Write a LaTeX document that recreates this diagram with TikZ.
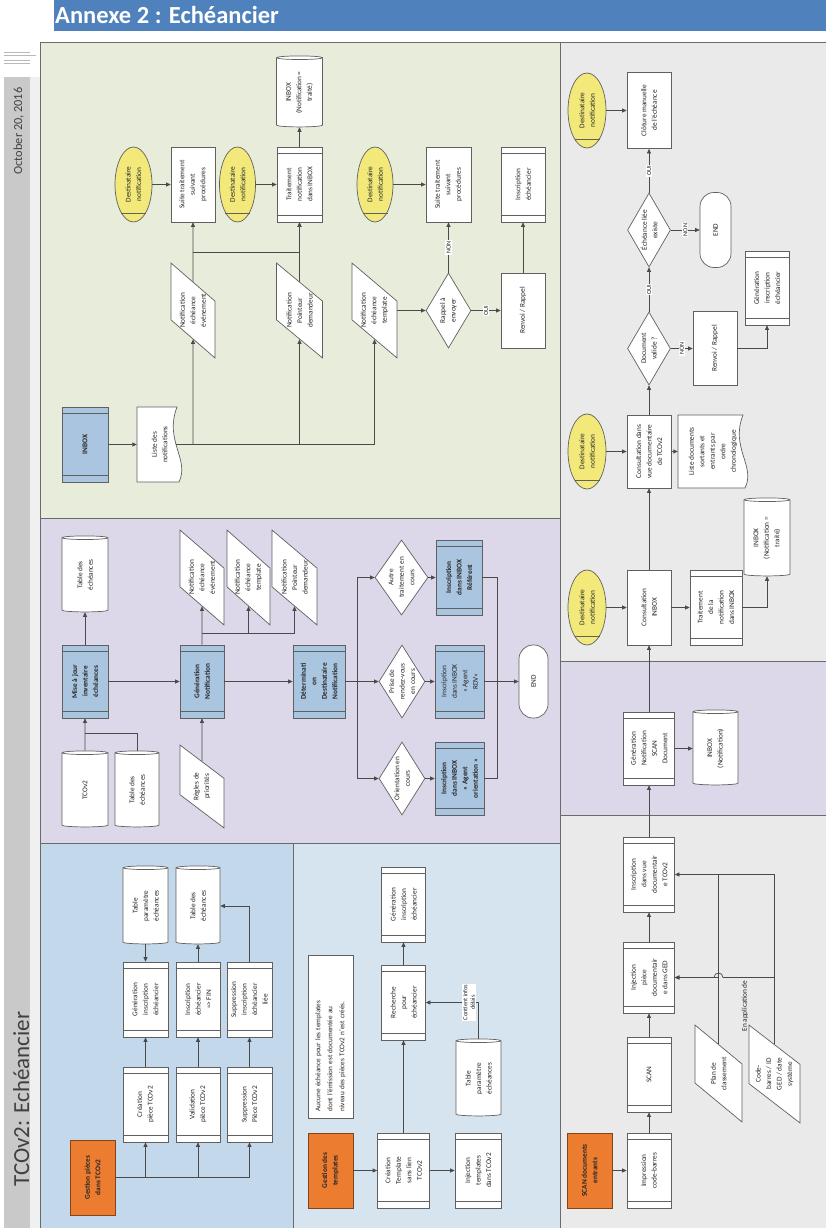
\documentclass[tikz,border=0pt]{standalone}
\usepackage{fontspec}
\setmainfont{Carlito}
\usetikzlibrary{shapes.geometric,arrows.meta,calc}
\definecolor{bc}{HTML}{606060}
\definecolor{lc}{HTML}{4A4A4A}
\definecolor{tx}{HTML}{262626}
\definecolor{yel}{HTML}{F3E97A}
\definecolor{bbox}{HTML}{A9C5E0}
\definecolor{orng}{HTML}{EC7C30}
\definecolor{greenbg}{HTML}{E8ECDB}
\definecolor{purplebg}{HTML}{DCD7E9}
\definecolor{blueA}{HTML}{C3D8EB}
\definecolor{blueB}{HTML}{D6E4F0}
\definecolor{greybg}{HTML}{EAEAEA}
\definecolor{hdr}{HTML}{4F81BD}
\definecolor{strip}{HTML}{C9C9C9}
\definecolor{frm}{HTML}{6A6A6A}
\definecolor{dtx}{HTML}{404040}
\newcommand\bxf{\fontsize{7.3}{10.5}\selectfont}
\tikzset{
  sz/.style 2 args={minimum width=#2pt,minimum height=#1pt},
  shp/.style={rotate=90,draw=bc,line width=0.7pt,inner sep=0pt,fill=white},
  proc/.style={shp,rectangle},
  subp/.style={shp,rectangle},
  subb/.style={shp,rectangle,fill=bbox},
  orbox/.style={shp,rectangle,fill=orng,draw=orng!55!black},
  ell/.style={shp,ellipse,fill=yel},
  cyl/.style={shp,cylinder,aspect=0.3,sz/.style 2 args={minimum width=##1pt,minimum height=##2pt}},
  para/.style={shp,trapezium,inner sep=2pt,trapezium left angle=63,trapezium right angle=117,trapezium stretches=true},
  dia/.style={shp,diamond},
  term/.style={shp,rectangle,rounded corners=14pt},
  txt/.style={rotate=90,inner sep=0pt,align=center,font=\bxf,text=tx},
  lbl/.style={rotate=90,fill=white,inner sep=1pt,align=center,font=\fontsize{6.3}{7.5}\selectfont,text=tx},
  arr/.style={draw=lc,line width=0.7pt,-{Triangle[length=4.5pt,width=4pt]}},
  ln/.style={draw=lc,line width=0.7pt},
  bar/.style={draw=bc,line width=0.6pt},
  lane/.style={draw=frm,line width=1pt},
}
\newcommand\SN[6][]{\node[#2,sz=#5] (#3) at (#4) {\strut};\node[txt,#1] (#3-t) at (#3.center) {#6};}
\newcommand\DOC[6]{%
  \filldraw[fill=white,draw=bc,line width=0.7pt,shift={(#2,#3)}]
   (-#4/2,-#5/2) -- (#4/2-5,-#5/2) .. controls (#4/2-18,-#5/2+0.45*#5) and (#4/2+8,-#5/2+0.7*#5) .. (#4/2-3,#5/2) -- (-#4/2,#5/2) -- cycle;
  \node[txt,sz={#4}{#5}] (#1) at (#2,#3) {#6};}
\begin{document}
\begin{tikzpicture}[x=1pt,y=-1pt]
\useasboundingbox (0,0) rectangle (826,1228);
\fill[white] (0,0) rectangle (826,1228);
% header
\fill[hdr] (54,0) rectangle (826,31);
\node[anchor=base west,inner sep=0pt,text=white,font=\fontsize{24.5}{26}\selectfont\bfseries] (title) at (55,24) {Annexe 2 : Echéancier};
% left strip
\fill[strip] (4,77) rectangle (30,1228);
\fill[gray!12] (30,77) rectangle (40,1228);
\draw[gray!55,line width=0.5pt] (4,52) -- (30,52) (4,55) -- (36,55) (4,60) -- (30,60) (4,63) -- (30,63);
\node[rotate=90,anchor=base,inner sep=0pt,font=\fontsize{12.3}{13}\selectfont,text=dtx] (date) at (22,131) {October 20, 2016};
\node[rotate=90,anchor=base,inner sep=0pt,font=\fontsize{23}{25}\selectfont,text=dtx] (ttl) at (29,1099) {TCOv2: Echéancier};
% lanes
\filldraw[lane,fill=greenbg] (40,43) rectangle (560,518);
\filldraw[lane,fill=purplebg] (40,518) rectangle (560,843);
\filldraw[lane,fill=blueA] (40,843) rectangle (293,1232);
\filldraw[lane,fill=blueB] (293,843) rectangle (560,1232);
\filldraw[lane,fill=greybg] (560,43) rectangle (830,661);
\filldraw[lane,fill=purplebg] (560,661) rectangle (830,815);
\filldraw[lane,fill=greybg] (560,815) rectangle (830,1232);

% ===== green lane =====
\SN{ell}{e1}{133.5,184.5}{{37}{75}}{Destinataire\\notification}
\SN{proc}{b1}{193,184.5}{{44}{75}}{Suite traitement\\suivant\\procédures}
\SN{ell}{e2}{237.5,184.5}{{36}{75}}{Destinataire\\notification}
\SN{subp}{b2}{299.5,184.5}{{45}{75}}{Traitement\\notification\\dans INBOX}
\SN{cyl}{c1}{299.5,92.5}{{46}{71}}{INBOX\\(Notification =\\traité)}
\SN{para}{p1}{193,310.5}{{44}{95}}{Notification\\échéance\\événement}
\SN{para}{p2}{299.5,310.5}{{46}{95}}{Notification\\Pointeur\\demandeur}
\SN{para}{p3}{374.5,310.5}{{45}{95}}{Notification\\échéance\\template}
\SN{ell}{e3}{375,184.5}{{36}{75}}{Destinataire\\notification}
\SN{proc}{b3}{448.5,184.5}{{45}{75}}{Suite traitement\\suivant\\procédures}
\SN{subp}{b4}{523,184.5}{{44}{75}}{Inscription\\échéancier}
\SN{dia}{d1}{448.5,310.5}{{45}{75}}{Rappel à\\envoyer}
\SN{proc}{b5}{523,310.5}{{44}{75}}{Renvoi / Rappel}
\SN[font=\bxf\bfseries]{subb}{inbox}{85,444.5}{{46}{75}}{INBOX}
\DOC{liste}{159.5}{444.5}{45}{75}{Liste des\\notifications}

% ===== purple lane (left) =====
\SN{cyl}{tab1}{85,575}{{46}{76}}{Table des\\échéances}
\SN[font=\bxf\bfseries]{subb}{maj}{85,681.5}{{46}{73}}{Mise à jour\\inventaire\\échéances}
\SN{cyl}{tcov2}{85,790}{{46}{76}}{TCOv2}
\SN{cyl}{tab2}{137,790}{{44}{76}}{Table des\\échéances}
\SN[font=\bxf\bfseries]{subb}{gen}{202,681.5}{{44}{73}}{Génération\\Notification}
\SN{para}{regles}{202,786.5}{{44}{83}}{Règles de\\priorités}
\SN{para}{n1}{202,577.5}{{44}{95}}{Notification\\échéance\\événement}
\SN{para}{n2}{248.5,577.5}{{43}{95}}{Notification\\échéance\\template}
\SN{para}{n3}{294.5,577.5}{{45}{95}}{Notification\\Pointeur\\demandeur}
\SN[font=\bxf\bfseries]{subb}{det}{319,681.5}{{52}{73}}{Déterminati\\on\\Destinataire\\Notification}
\SN{dia}{dq1}{401.5,577.5}{{53}{75}}{Autre\\traitement en\\cours}
\SN{dia}{dq2}{402,681.5}{{46}{73}}{Prise de\\rendez-vous\\en cours}
\SN{dia}{dq3}{402,778.5}{{46}{73}}{Orientation en\\cours}
\SN[font=\bxf\bfseries]{subb}{ir1}{459,577.5}{{46}{75}}{Inscription\\dans INBOX\\Référent}
\SN{subb}{ir2}{459.5,681.5}{{49}{73}}{Inscription\\dans INBOX\\« Agent\\RDV»}
\SN[font=\bxf\bfseries]{subb}{ir3}{459.5,778.5}{{49}{73}}{Inscription\\dans INBOX\\« Agent\\orientation »}
\SN{term}{end1}{533.5,681.5}{{29}{73}}{END}

% ===== blue lane 1 =====
\SN[font=\bxf\bfseries]{orbox}{og1}{92.5,1177.5}{{45}{75}}{Gestion pièces\\dans TCOv2}
\SN{subp}{cp}{145.5,1104.5}{{45}{75}}{Création\\pièce TCOv2}
\SN{subp}{vp}{198,1104.5}{{44}{75}}{Validation\\pièce TCOv2}
\SN{subp}{sp}{249.5,1104.5}{{45}{75}}{Suppression\\Pièce TCOv2}
\SN{subp}{gi}{145.5,999.5}{{45}{75}}{Génération\\inscription\\échéancier}
\SN{subp}{ie}{198,999.5}{{44}{75}}{Inscription\\échéancier\\=> FIN}
\SN{subp}{si}{249.5,999.5}{{45}{75}}{Suppression\\inscription\\échéancier\\liée}
\SN{cyl}{tpe}{145.5,906}{{45}{78}}{Table\\paramètre\\échéances}
\SN{cyl}{tde}{198,906}{{44}{78}}{Table des\\échéances}

% ===== blue lane 2 =====
\SN[font=\bxf\bfseries]{orbox}{og2}{330.5,1170.5}{{45}{75}}{Gestion des\\templates}
\SN{subp}{ct}{403.5,1170.5}{{52}{75}}{Création\\Template\\sans lien\\TCOv2}
\SN{subp}{it}{478,1170.5}{{46}{75}}{Injection\\templates\\dans TCOv2}
\SN{subp}{rp}{403.5,1002.5}{{44}{75}}{Recherche\\pour\\échéancier}
\SN{subp}{gt}{403.5,904.5}{{44}{75}}{Génération\\inscription\\échéancier}
\SN{cyl}{tpe2}{478.5,1078.5}{{45}{77}}{Table\\paramètre\\échéances}
\node[proc,sz={45}{163},text width=150pt,align=left,font=\fontsize{7.2}{12}\selectfont,text=tx] (note) at (330.5,1036.5) {Aucune échéance pour les templates\\dont l'émission est documentée au\\niveau des pièces TCOv2 n'est créés.};

% ===== right column =====
\SN{ell}{e4}{587,110.5}{{38}{75}}{Destinataire\\notification}
\SN{proc}{clo}{649,110.5}{{44}{76}}{Clôture manuelle\\de l'échéance}
\SN{dia}{dq4}{649,230}{{43}{74}}{Échéance liée\\existe}
\SN{term}{end2}{715.5,230}{{31}{75}}{END}
\SN{dia}{dq5}{649,348.5}{{43}{73}}{Document\\valide ?}
\SN{proc}{rr}{715,348.5}{{44}{74}}{Renvoi / Rappel}
\SN{subp}{gr}{767,288}{{44}{74}}{Génération\\inscription\\échéancier}
\SN{ell}{e5}{587,451.5}{{38}{75}}{Destinataire\\notification}
\SN{proc}{cdv}{649,451.5}{{44}{73}}{Consultation dans\\vue documentaire\\de TCOv2}
\DOC{ldoc}{713}{451.5}{70}{73}{Liste documents\\sortants et\\entrants par\\ordre\\chronologique}
\SN{ell}{e6}{587,607.5}{{38}{75}}{Destinataire\\notification}
\SN{proc}{ci}{649,607.5}{{44}{75}}{Consultation\\INBOX}
\SN{subp}{tn}{716,607.5}{{52}{75}}{Traitement\\de la\\notification\\dans INBOX}
\SN{cyl}{c2}{767,538}{{46}{78}}{INBOX\\(Notification =\\traité)}
\SN{subp}{gsc}{649,748.5}{{51}{73}}{Génération\\Notification\\SCAN\\Document}
\SN{cyl}{c3}{715.5,748.5}{{45}{75}}{INBOX\\(Notification)}
\SN[font=\bxf\bfseries]{orbox}{og3}{589.5,1170.5}{{45}{75}}{SCAN documents\\entrants}
\SN{subp}{ic}{649,1170.5}{{44}{75}}{Impression\\code-barres}
\SN{subp}{sc}{649,1074.5}{{44}{75}}{SCAN}
\SN{subp}{ig}{649,977.5}{{51}{71}}{Injection\\pièce\\documentair\\e dans GED}
\SN{subp}{iv}{649,874.5}{{51}{75}}{Inscription\\dans vue\\documentair\\e TCOv2}
\SN{para}{pc}{718.5,1073.5}{{47}{97}}{Plan de\\classement}
\SN{para}{cb}{774.5,1074}{{51}{98}}{Code-\\barres / ID\\GED / date\\système}

% subprocess bars
\foreach \n in {b2,b4,inbox,maj,gen,det,ir1,ir2,ir3,cp,vp,sp,gi,ie,si,ct,it,rp,gt,gr,tn,gsc,ic,sc,ig,iv}{
  \draw[bar] ($(\n.north east)!7pt!(\n.north west)$) -- ($(\n.south east)!7pt!(\n.south west)$)
             ($(\n.north west)!7pt!(\n.north east)$) -- ($(\n.south west)!7pt!(\n.south east)$);
}
% ellipse chords
\foreach \n in {e1,e2,e3,e4,e5,e6}{
  \draw[bar] ($(\n.center)+(-12.5,28.5)$) -- ($(\n.center)+(12.5,28.5)$);
}

% ===== connectors: green =====
\draw[arr] (inbox) -- (liste);
\draw[ln] ([xshift=-6pt]liste.south) -- (p3 |- liste.south);
\draw[arr] (p1 |- liste.south) -- (p1);
\draw[arr] (p2 |- liste.south) -- (p2);
\draw[arr] (p3 |- liste.south) -- (p3);
\draw[arr] (p1) -- (b1);
\coordinate (j1) at (193,252);
\draw[arr] (j1) -| (b2);
\draw[arr] (p2) -- (b2);
\draw[arr] (e1) -- (b1);
\draw[arr] (e2) -- (b2);
\draw[arr] (b2) -- (c1);
\draw[arr] (e3) -- (b3);
\draw[arr] (p3) -- (d1);
\draw[arr] (d1) -- node[lbl]{NON} (b3);
\draw[arr] (d1) -- node[lbl]{OUI} (b5);
\draw[arr] (b5) -- (b4);

% ===== connectors: purple left =====
\draw[arr] (tcov2) -- (maj);
\coordinate (jt) at (85,733);
\draw[ln] (tab2) |- (jt);
\draw[arr] (maj) -- (tab1);
\draw[arr] (maj) -- (gen);
\draw[arr] (regles) -- (gen);
\draw[arr] (gen) -- (n1);
\coordinate (jn) at (202,633);
\draw[arr] (jn) -| (n2);
\draw[arr] (jn) -| (n3);
\draw[arr] (gen) -- (det);
\coordinate (jd) at (357,681.5);
\draw[ln] (det) -- (jd);
\draw[arr] (jd) |- (dq1);
\draw[arr] (jd) -- (dq2);
\draw[arr] (jd) |- (dq3);
\draw[arr] (dq1) -- (ir1);
\draw[arr] (dq2) -- (ir2);
\draw[arr] (dq3) -- (ir3);
\coordinate (je) at (497,681.5);
\draw[ln] (ir1) -| (je);
\draw[ln] (ir3) -| (je);
\draw[arr] (ir2) -- (end1);

% ===== connectors: blue 1 =====
\draw[ln] (og1) -- (sp |- og1);
\draw[arr] (cp |- og1) -- (cp);
\draw[arr] (vp |- og1) -- (vp);
\draw[arr] (sp |- og1) -- (sp);
\draw[arr] (cp) -- (gi);
\draw[arr] (vp) -- (ie);
\draw[arr] (sp) -- (si);
\draw[arr] (tpe) -- (gi);
\draw[arr] (ie) -- (tde);
\draw[arr] (si) |- (tde);

% ===== connectors: blue 2 =====
\draw[arr] (og2) -- (ct);
\draw[arr] (ct) -- (it);
\draw[arr] (ct) -- (rp);
\draw[arr] (rp) -- (gt);
\draw[arr] (tpe2) |- (rp);
\node[lbl] (lbci) at (469,1002.5) {Contient infos\\délais};

% ===== connectors: right =====
\draw[arr] (e4) -- (clo);
\draw[arr] (dq4) -- node[lbl]{OUI} (clo);
\draw[arr] (dq4) -- node[lbl]{NON} (end2);
\draw[arr] (dq5) -- node[lbl]{OUI} (dq4);
\draw[arr] (dq5) -- node[lbl]{NON} (rr);
\draw[arr] (rr) -| (gr);
\draw[arr] (cdv) -- (dq5);
\draw[arr] (e5) -- (cdv);
\draw[arr] (cdv) -- (ldoc);
\draw[arr] (ci) -- (cdv);
\draw[arr] (e6) -- (ci);
\draw[arr] (ci) -- (tn);
\draw[arr] (tn) -| (c2);
\draw[arr] (gsc) -- (ci);
\draw[arr] (gsc) -- (c3);
\draw[arr] (og3) -- (ic);
\draw[arr] (ic) -- (sc);
\draw[arr] (sc) -- (ig);
\draw[arr] (ig) -- (iv);
\draw[arr] (iv) -- (gsc);
\coordinate (jp) at (718.5,874.5);
\draw[arr] (pc) |- (iv);
\draw[arr] (pc.center |- ig) -- (ig);
\draw[ln] (cb) |- (jp);
\draw[arr] (cb.center |- ig) -- (723,977.5) .. controls (723,971.5) and (714,971.5) .. (714,977.5) -- (ig);
\node[txt] (lbea) at (745,1006) {En application de};
\end{tikzpicture}
\end{document}
